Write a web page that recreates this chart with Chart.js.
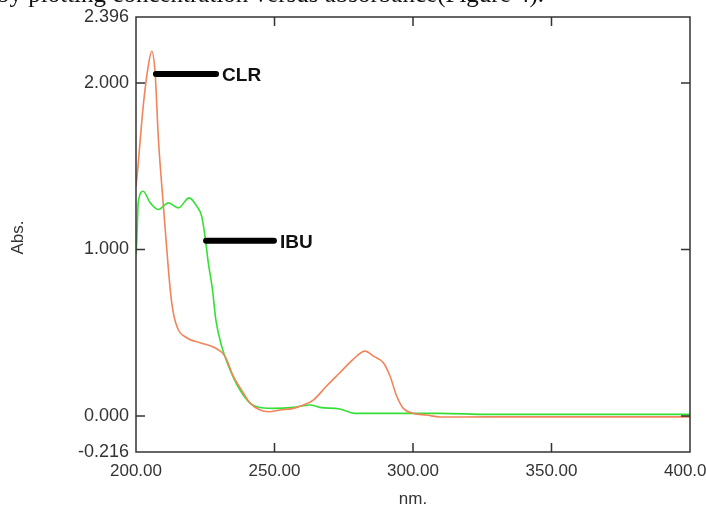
<!DOCTYPE html>
<html>
<head>
<meta charset="utf-8">
<script src="https://cdn.jsdelivr.net/npm/chart.js@4.4.1/dist/chart.umd.min.js"></script>
<style>
  html, body { margin: 0; padding: 0; background: #fff; overflow: hidden; }
  #wrap { position: relative; width: 706px; height: 505px; }
  #caption { position: absolute; left: -3px; top: -20px; font: 25px "Liberation Serif", serif; color: #111; white-space: nowrap; z-index: 2; }
</style>
</head>
<body>
<div id="wrap">
  <div id="caption">by plotting concentration versus absorbance(Figure 4).</div>
  <canvas id="uvChart"></canvas>
</div>
<script>
// espectro UV - CLR e IBU
const clrNm  = [200, 200.5, 202.6, 204.4, 205.7, 206.9, 208.1, 209.9, 211.7, 212.9, 214.7, 218.3, 223.1, 228.5, 232.1, 235.1, 238.7, 241.2, 244.8, 247.8, 252, 256.8, 260.4, 264, 268.8, 273.6, 278.4, 282.7, 285.7, 289.3, 291.7, 294.1, 296.5, 300.1, 304.9, 309.7, 327, 400];
const clrAbs = [1.38, 1.46, 1.86, 2.10, 2.19, 2.06, 1.66, 1.26, 0.88, 0.68, 0.54, 0.47, 0.44, 0.41, 0.36, 0.24, 0.14, 0.077, 0.036, 0.026, 0.036, 0.046, 0.066, 0.096, 0.18, 0.26, 0.34, 0.39, 0.36, 0.32, 0.24, 0.12, 0.046, 0.016, 0.006, -0.006, -0.005, -0.005];

const ibuNm  = [200, 200.3, 200.8, 202.6, 205.1, 208.1, 211.7, 215.3, 219.2, 221.9, 223.7, 224.9, 226.1, 227.6, 228.8, 230.9, 233.9, 237.5, 241.2, 243.6, 249.6, 256.8, 262.8, 266.4, 273.6, 279, 309.7, 327, 400];
const ibuAbs = [0.97, 1.06, 1.28, 1.35, 1.28, 1.24, 1.28, 1.25, 1.31, 1.26, 1.20, 1.08, 0.92, 0.76, 0.58, 0.42, 0.28, 0.157, 0.077, 0.056, 0.046, 0.052, 0.066, 0.052, 0.042, 0.016, 0.016, 0.01, 0.01];

const xTicks = [200, 250, 300, 350, 400];
const yTicks = [-0.216, 0, 1, 2, 2.396];
const innerTicksX = [250, 300, 350];
const innerTicksY = [0, 1, 2];

// rótulos das curvas: [texto, nm inicial, nm final, abs]
const curveLabels = [
    ['CLR', 207.2, 228.9, 2.054],
    ['IBU', 225.3, 249.8, 1.052]
];

const toXY = (xs, ys) => xs.map((x, i) => ({ x: x, y: ys[i] }));

const framePlugin = {
    id: 'frame',
    afterDatasetsDraw(chart) {
        const ctx = chart.ctx;
        const a = chart.chartArea;
        const xs = chart.scales.x, ys = chart.scales.y;
        ctx.save();
        ctx.strokeStyle = '#333';
        ctx.lineWidth = 1.5;
        ctx.strokeRect(a.left, a.top, a.right - a.left, a.bottom - a.top);
        ctx.beginPath();
        innerTicksX.forEach(v => {
            const px = xs.getPixelForValue(v);
            ctx.moveTo(px, a.bottom); ctx.lineTo(px, a.bottom - 9);
            ctx.moveTo(px, a.top); ctx.lineTo(px, a.top + 9);
        });
        innerTicksY.forEach(v => {
            const py = ys.getPixelForValue(v);
            ctx.moveTo(a.left, py); ctx.lineTo(a.left + 9, py);
            ctx.moveTo(a.right, py); ctx.lineTo(a.right - 9, py);
        });
        ctx.stroke();

        // rótulos CLR / IBU
        ctx.lineCap = 'round';
        ctx.lineWidth = 6;
        ctx.strokeStyle = '#000';
        ctx.fillStyle = '#111';
        ctx.font = 'bold 19px "Liberation Sans", Arial, sans-serif';
        ctx.textBaseline = 'middle';
        curveLabels.forEach(([txt, x0, x1, y]) => {
            const p0 = xs.getPixelForValue(x0), p1 = xs.getPixelForValue(x1), py = ys.getPixelForValue(y);
            ctx.beginPath();
            ctx.moveTo(p0, py); ctx.lineTo(p1, py);
            ctx.stroke();
            ctx.fillText(txt, p1 + 6, py + 2);
        });

        // títulos dos eixos
        ctx.fillStyle = '#333';
        ctx.font = '17px "Liberation Sans", Arial, sans-serif';
        ctx.textAlign = 'center';
        ctx.fillText('nm.', (a.left + a.right) / 2, 499);
        ctx.translate(18, (a.top + a.bottom) / 2 + 3);
        ctx.rotate(-Math.PI / 2);
        ctx.fillText('Abs.', 0, 0);
        ctx.restore();
    }
};

new Chart(document.getElementById('uvChart'), {
    type: 'line',
    data: {
        datasets: [{
            label: 'CLR',
            data: toXY(clrNm, clrAbs),
            borderColor: '#f0845a',
            borderWidth: 1.6,
            pointRadius: 0,
            cubicInterpolationMode: 'monotone'
        }, {
            label: 'IBU',
            data: toXY(ibuNm, ibuAbs),
            borderColor: '#35e035',
            borderWidth: 1.6,
            pointRadius: 0,
            cubicInterpolationMode: 'monotone'
        }]
    },
    options: {
        responsive: true,
        maintainAspectRatio: false,
        animation: false,
        layout: { padding: { top: 17, right: 16, left: 0, bottom: 0 } },
        plugins: { legend: { display: false }, tooltip: { enabled: false } },
        scales: {
            x: {
                type: 'linear',
                min: 200,
                max: 400,
                afterBuildTicks: s => { s.ticks = xTicks.map(v => ({ value: v })); },
                afterFit: s => { s.height = 53; s.paddingLeft = 0; s.paddingRight = 0; },
                grid: { display: false, drawTicks: false },
                border: { display: false },
                ticks: {
                    autoSkip: false,
                    maxRotation: 0,
                    padding: 9,
                    color: '#333',
                    font: { family: '"Liberation Sans", Arial, sans-serif', size: 17 },
                    callback: v => v.toFixed(2)
                }
            },
            y: {
                type: 'linear',
                min: -0.216,
                max: 2.396,
                afterBuildTicks: s => { s.ticks = yTicks.map(v => ({ value: v })); },
                afterFit: s => { s.width = 136; s.paddingTop = 0; s.paddingBottom = 0; },
                grid: { display: false, drawTicks: false },
                border: { display: false },
                ticks: {
                    autoSkip: false,
                    padding: 7,
                    color: '#333',
                    font: { family: '"Liberation Sans", Arial, sans-serif', size: 18 },
                    callback: v => v.toFixed(3)
                }
            }
        }
    },
    plugins: [framePlugin]
});
</script>
</body>
</html>
